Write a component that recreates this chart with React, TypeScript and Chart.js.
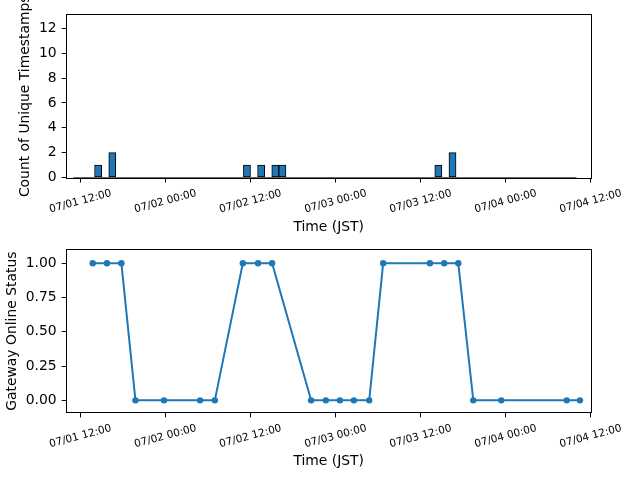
import { useEffect, useRef } from "react";
import { Chart, registerables } from "chart.js";

Chart.register(...registerables);

// Hourly histogram of unique timestamps
const HIST_START = "07/01 11:00";
const HIST_END = "07/04 10:00";
const busyHours = [
  "07/01 14:00", "07/01 16:00",
  "07/02 11:00", "07/02 13:00", "07/02 15:00", "07/02 16:00",
  "07/03 14:00", "07/03 16:00",
];
const busyCounts = [1, 2, 1, 1, 1, 1, 1, 2];

// Gateway online status samples
const statusTimes = [
  "07/01 13:44", "07/01 15:45", "07/01 17:47", "07/01 19:46", "07/01 23:48",
  "07/02 04:53", "07/02 06:58", "07/02 10:55", "07/02 13:04", "07/02 15:03",
  "07/02 20:33", "07/02 22:38", "07/03 00:37", "07/03 02:35", "07/03 04:45",
  "07/03 06:43", "07/03 13:19", "07/03 15:20", "07/03 17:19", "07/03 19:26",
  "07/03 23:23", "07/04 08:37", "07/04 10:29",
];
const statusValues = [1, 1, 1, 0, 0, 0, 0, 1, 1, 1, 0, 0, 0, 0, 0, 1, 1, 1, 1, 0, 0, 0, 0];

// Axis ranges and ticks
const X_MIN = "07/01 10:04";
const X_MAX = "07/04 12:00";
const xTickTimes = [
  "07/01 12:00", "07/02 00:00", "07/02 12:00", "07/03 00:00",
  "07/03 12:00", "07/04 00:00", "07/04 12:00",
];
const countTicks = [0, 2, 4, 6, 8, 10, 12];
const COUNT_MAX = 13.07;
const statusTicks = [0, 0.25, 0.5, 0.75, 1];
const STATUS_MIN = -0.088;
const STATUS_MAX = 1.097;

const BLUE = "#1f77b4";
const FONT = "'DejaVu Sans'";
const LABEL_PX = 13.9;

// "MM/DD HH:MM" -> hours since 07/01 00:00
function toHours(s: string): number {
  const [d, t] = s.split(" ");
  const day = parseInt(d.split("/")[1], 10);
  const [hh, mm] = t.split(":").map((v) => parseInt(v, 10));
  return (day - 1) * 24 + hh + mm / 60;
}

function fmtTick(h: number): string {
  const day = Math.floor(h / 24 + 1e-6) + 1;
  const hh = Math.round(h - (day - 1) * 24);
  const p = (n: number) => String(n).padStart(2, "0");
  return `07/${p(day)} ${p(hh)}:00`;
}

// Axes box, snapped to whole pixels and drawn over the data
const frame = {
  id: "frame",
  afterDatasetsDraw(chart: any) {
    const { ctx, chartArea: a } = chart;
    const l = Math.round(a.left) - 0.5;
    const t = Math.round(a.top) - 0.5;
    const r = Math.round(a.right) + 0.5;
    const b = Math.round(a.bottom) + 0.5;
    ctx.save();
    ctx.strokeStyle = "#000";
    ctx.lineWidth = 1;
    ctx.strokeRect(l, t, r - l, b - t);
    ctx.restore();
  },
};

// Tick labels turned 15 degrees and centred under their ticks
const rotatedXLabels = {
  id: "rotatedXLabels",
  afterDraw(chart: any) {
    const s = chart.scales.x;
    const ctx = chart.ctx;
    ctx.save();
    ctx.font = `10.5px ${FONT}`;
    ctx.fillStyle = "#000";
    ctx.textAlign = "center";
    ctx.textBaseline = "middle";
    s.ticks.forEach((t: any) => {
      const px = s.getPixelForValue(t.value);
      ctx.save();
      ctx.translate(px, chart.chartArea.bottom + 24);
      ctx.rotate((-15 * Math.PI) / 180);
      ctx.fillText(fmtTick(t.value), 0, 0);
      ctx.restore();
    });
    ctx.restore();
  },
};

function xScale(axisHeight: number, titlePadBottom: number) {
  return {
    type: "linear",
    min: toHours(X_MIN),
    max: toHours(X_MAX),
    offset: false,
    afterBuildTicks: (sc: any) => {
      sc.ticks = xTickTimes.map((t) => ({ value: toHours(t) }));
    },
    afterFit: (sc: any) => {
      sc.height = axisHeight;
      sc.paddingLeft = 0;
      sc.paddingRight = 0;
    },
    ticks: { display: false, autoSkip: false },
    grid: {
      display: true,
      offset: false,
      drawOnChartArea: false,
      drawTicks: true,
      tickLength: 5,
      tickColor: "#000",
      tickWidth: 1,
    },
    border: { display: false },
    title: {
      display: true,
      text: "Time (JST)",
      color: "#000",
      font: { family: FONT, size: LABEL_PX },
      padding: { top: 0, bottom: titlePadBottom },
    },
  };
}

function yScale(
  min: number,
  max: number,
  ticks: number[],
  fmt: (v: number) => string,
  title: string,
  titlePadTop: number
) {
  return {
    type: "linear",
    min,
    max,
    afterBuildTicks: (sc: any) => {
      sc.ticks = ticks.map((v) => ({ value: v }));
    },
    afterFit: (sc: any) => {
      sc.width = 66.7;
      sc.paddingTop = 0;
      sc.paddingBottom = 0;
    },
    ticks: {
      color: "#000",
      font: { family: FONT, size: LABEL_PX },
      padding: 5,
      callback: (v: any) => fmt(Number(v)),
    },
    grid: {
      display: true,
      drawOnChartArea: false,
      drawTicks: true,
      tickLength: 5,
      tickColor: "#000",
      tickWidth: 1,
    },
    border: { display: false },
    title: {
      display: true,
      text: title,
      color: "#000",
      font: { family: FONT, size: LABEL_PX },
      padding: { top: titlePadTop, bottom: 0 },
    },
  };
}

function buildHistogram() {
  const start = toHours(HIST_START);
  const end = toHours(HIST_END);
  const lookup = new Map<number, number>();
  busyHours.forEach((h, i) => lookup.set(Math.round(toHours(h)), busyCounts[i]));
  const bars: { x: number; y: number }[] = [];
  for (let h = start; h < end; h += 1) {
    bars.push({ x: h + 0.5, y: lookup.get(Math.round(h)) ?? 0 });
  }
  return { bars, start, end };
}

export default function App() {
  const topRef = useRef<HTMLCanvasElement>(null);
  const bottomRef = useRef<HTMLCanvasElement>(null);

  useEffect(() => {
    const hist = buildHistogram();

    const top = new Chart(topRef.current as HTMLCanvasElement, {
      type: "bar",
      data: {
        datasets: [
          {
            type: "line",
            data: [
              { x: hist.start, y: 0 },
              { x: hist.end, y: 0 },
            ],
            borderColor: "#666",
            borderWidth: 1,
            pointRadius: 0,
            clip: false,
          } as any,
          {
            type: "bar",
            data: hist.bars,
            backgroundColor: BLUE,
            borderColor: "#000",
            borderWidth: 1,
            borderSkipped: false,
            barPercentage: 1,
            categoryPercentage: 1,
          } as any,
        ],
      },
      options: {
        animation: false,
        responsive: false,
        devicePixelRatio: 1,
        layout: { padding: { top: 15, right: 49.3, left: 0, bottom: 0 } },
        plugins: { legend: { display: false }, tooltip: { enabled: false } },
        scales: {
          x: xScale(62.5, 4.7),
          y: yScale(0, COUNT_MAX, countTicks, (v) => String(v), "Count of Unique Timestamps", 16.7),
        } as any,
      },
      plugins: [frame, rotatedXLabels],
    });

    const bottom = new Chart(bottomRef.current as HTMLCanvasElement, {
      type: "line",
      data: {
        datasets: [
          {
            data: statusTimes.map((t, i) => ({ x: toHours(t), y: statusValues[i] })),
            borderColor: BLUE,
            backgroundColor: BLUE,
            borderWidth: 2,
            pointRadius: 3.2,
            pointBorderWidth: 0,
            pointBackgroundColor: BLUE,
            tension: 0,
          },
        ],
      },
      options: {
        animation: false,
        responsive: false,
        devicePixelRatio: 1,
        layout: { padding: { top: 10, right: 49.3, left: 0, bottom: 0 } },
        plugins: { legend: { display: false }, tooltip: { enabled: false } },
        scales: {
          x: xScale(67.6, 10.7),
          y: yScale(STATUS_MIN, STATUS_MAX, statusTicks, (v) => v.toFixed(2), "Gateway Online Status", 3.7),
        } as any,
      },
      plugins: [frame, rotatedXLabels],
    });

    return () => {
      top.destroy();
      bottom.destroy();
    };
  }, []);

  return (
    <div
      style={{
        position: "absolute",
        left: 0,
        top: 0,
        width: 640,
        height: 480,
        background: "#fff",
      }}
    >
      <canvas ref={topRef} width={640} height={240} style={{ display: "block", width: 640, height: 240 }} />
      <canvas ref={bottomRef} width={640} height={240} style={{ display: "block", width: 640, height: 240 }} />
    </div>
  );
}
